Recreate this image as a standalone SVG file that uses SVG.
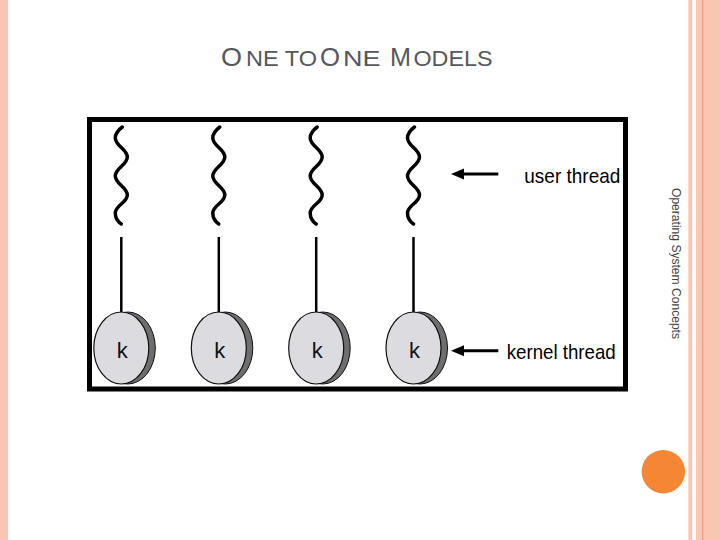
<svg xmlns="http://www.w3.org/2000/svg" width="720" height="540" viewBox="0 0 720 540">
<style>
.lbl{font-family:"Liberation Sans",Arial,sans-serif;font-size:21px;fill:#000}
.k{font-family:"Liberation Sans",Arial,sans-serif;font-size:22px;fill:#111;text-anchor:middle}
.wave{fill:none;stroke:#000;stroke-width:3.5;stroke-linecap:round}
.stem{stroke:#000;stroke-width:2.5}
.back{fill:#6e6e6e;stroke:#111;stroke-width:1}
.front{fill:#dcdce0;stroke:#111;stroke-width:1.2}
.arr{stroke:#000;stroke-width:3}
.head{fill:#000}
.title{font-family:"Liberation Sans",Arial,sans-serif;fill:#55585e}
</style>
<defs>
<path id="w" d="M1,127 C-3,130 -6,134 -6,138 C-6,146 6,149 6,157 C6,165 -6,168 -6,176 C-6,184 6,187 6,195 C6,203 -6,205 -6,213 C-6,218 -3,222 0,224"/>
</defs>
<rect width="720" height="540" fill="#fff"/>
<!-- decorative borders -->
<rect x="0" y="0" width="8" height="540" fill="#f9c6b1"/>
<rect x="688.3" y="0" width="4" height="540" fill="#f9c6b1"/>
<rect x="696" y="0" width="24" height="540" fill="#f9c6b1"/>
<rect x="702" y="0" width="1.3" height="540" fill="#ef9f7c"/>
<circle cx="663.3" cy="471.7" r="21.7" fill="#f58634"/>
<text transform="translate(672,188) rotate(90)" x="0" y="0" font-family="Liberation Sans,Arial,sans-serif" font-size="12" fill="#444" textLength="151" lengthAdjust="spacingAndGlyphs">Operating System Concepts</text>
<!-- title -->
<g id="title" class="title">
<text y="66"><tspan x="221" font-size="26" textLength="21" lengthAdjust="spacingAndGlyphs">O</tspan><tspan x="246" font-size="22" textLength="71" lengthAdjust="spacingAndGlyphs">NE TO</tspan><tspan x="320" font-size="26" textLength="20" lengthAdjust="spacingAndGlyphs">O</tspan><tspan x="343" font-size="22" textLength="37.5" lengthAdjust="spacingAndGlyphs">NE</tspan><tspan x="390" font-size="26" textLength="21" lengthAdjust="spacingAndGlyphs">M</tspan><tspan x="413.5" font-size="22" textLength="79" lengthAdjust="spacingAndGlyphs">ODELS</tspan></text>
</g>
<!-- frame -->
<rect x="89.5" y="119.5" width="536" height="269.5" fill="none" stroke="#000" stroke-width="5"/>
<!-- threads -->
<g id="thread1" transform="translate(121.3,0)">
<use href="#w" class="wave"/>
<line x1="0" y1="237" x2="0" y2="313" class="stem"/>
<ellipse cx="6.5" cy="348" rx="27.5" ry="36" class="back"/>
<ellipse cx="0" cy="348" rx="27.5" ry="36" class="front"/>
<text x="1" y="358" class="k">k</text>
</g>
<g id="thread2" transform="translate(218.8,0)">
<use href="#w" class="wave"/>
<line x1="0" y1="237" x2="0" y2="313" class="stem"/>
<ellipse cx="6.5" cy="348" rx="27.5" ry="36" class="back"/>
<ellipse cx="0" cy="348" rx="27.5" ry="36" class="front"/>
<text x="1" y="358" class="k">k</text>
</g>
<g id="thread3" transform="translate(316.2,0)">
<use href="#w" class="wave"/>
<line x1="0" y1="237" x2="0" y2="313" class="stem"/>
<ellipse cx="6.5" cy="348" rx="27.5" ry="36" class="back"/>
<ellipse cx="0" cy="348" rx="27.5" ry="36" class="front"/>
<text x="1" y="358" class="k">k</text>
</g>
<g id="thread4" transform="translate(413.5,0)">
<use href="#w" class="wave"/>
<line x1="0" y1="237" x2="0" y2="313" class="stem"/>
<ellipse cx="6.5" cy="348" rx="27.5" ry="36" class="back"/>
<ellipse cx="0" cy="348" rx="27.5" ry="36" class="front"/>
<text x="1" y="358" class="k">k</text>
</g>
<!-- labels -->
<g id="label-user">
<text x="524.3" y="183.3" class="lbl" textLength="96" lengthAdjust="spacingAndGlyphs">user thread</text>
</g>
<g id="label-kernel">
<text x="506.7" y="359.3" class="lbl" textLength="109" lengthAdjust="spacingAndGlyphs">kernel thread</text>
</g>
<!-- connectors -->
<g id="connectors">
<line x1="498.3" y1="174" x2="461" y2="174" class="arr"/>
<polygon points="451,174 464,168.5 464,179.5" class="head"/>
<line x1="498.3" y1="350.7" x2="461" y2="350.7" class="arr"/>
<polygon points="451,350.7 464,345.2 464,356.2" class="head"/>
</g>
</svg>
